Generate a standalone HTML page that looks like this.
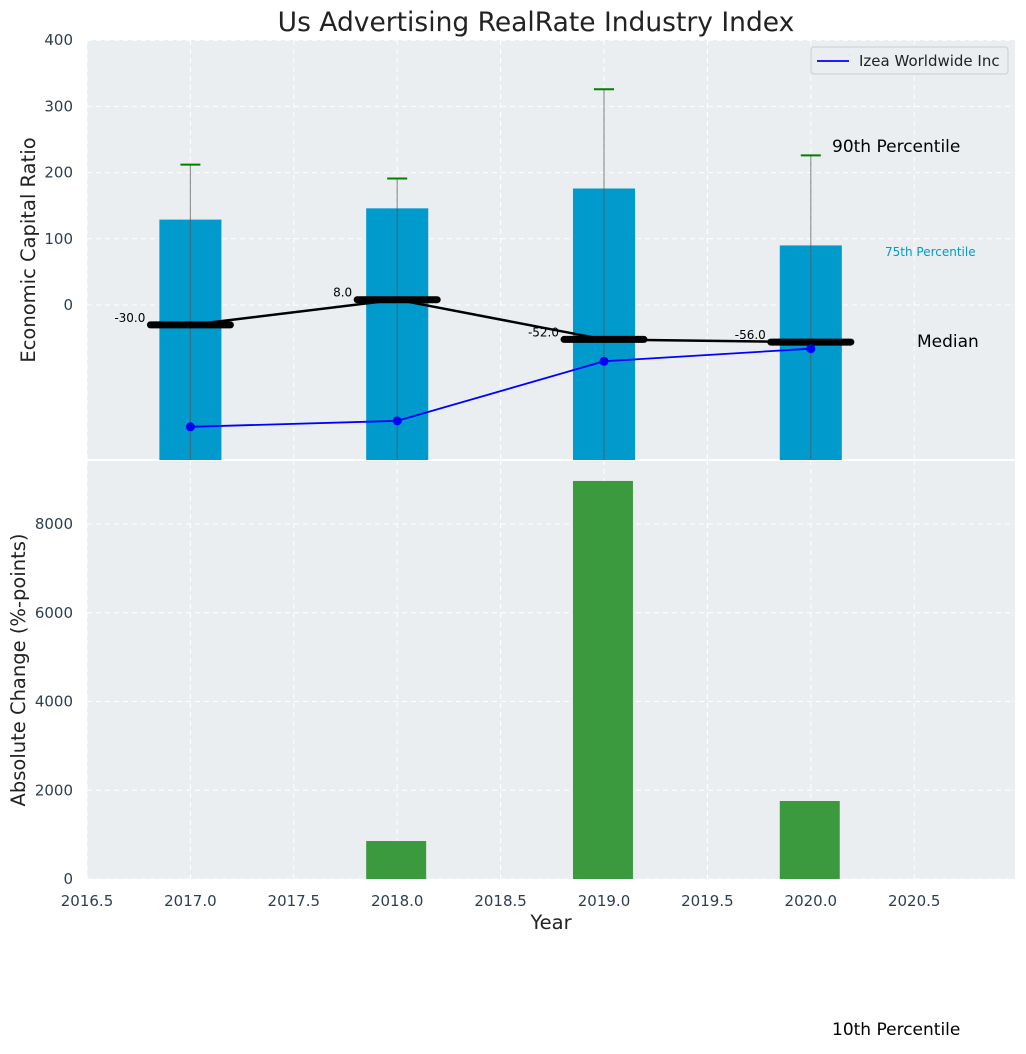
<!DOCTYPE html>
<html><head><meta charset="utf-8"><style>
body{margin:0;background:#fff;font-family:"Liberation Sans","DejaVu Sans",sans-serif;}
svg text{font-family:"DejaVu Sans","Liberation Sans",sans-serif;}
</style></head><body>
<svg id="c" width="1026" height="1049" xmlns="http://www.w3.org/2000/svg"></svg>
<script>
const years=[2017,2018,2019,2020];
const p75=[129,146,176,90];
const p90=[212,191,326,226];
const medians=[-30,8,-52,-56];
const company=[-184,-175,-85,-66];
const absChange=[0,856,8970,1758];
const topTicks=[0,100,200,300,400];
const botTicks=[0,2000,4000,6000,8000];
const xTicks=[2016.5,2017,2017.5,2018,2018.5,2019,2019.5,2020,2020.5];

const NS="http://www.w3.org/2000/svg";
const svg=document.getElementById('c');
function el(t,a,txt){const e=document.createElementNS(NS,t);for(const k in a)e.setAttribute(k,a[k]);if(txt!==undefined)e.textContent=txt;svg.appendChild(e);return e;}
const L=87,R=1015;
const x=v=>L+(v-2016.5)*206.8;
const yT=v=>305-v*0.662;
const yB=v=>879-v*0.044375;
const TT=40,TB=460,BT=460,BB=879;

let e;
e=el('rect',{x:L,y:TT,width:R-L,height:TB-TT,fill:'#eaeef0'});

e=el('rect',{x:L,y:BT+1,width:R-L,height:BB-BT-1,fill:'#eaeef0'});

el('line',{x1:L,x2:R,y1:460,y2:460,stroke:'#fff','stroke-width':2});
xTicks.forEach(t=>{
  [[TT,TB],[BT,BB]].forEach(r=>{el('line',{x1:x(t),x2:x(t),y1:r[0],y2:r[1],stroke:'#fff','stroke-dasharray':'5,4','stroke-width':1});});
  e=el('text',{x:x(t),y:906,'text-anchor':'middle','font-size':15,fill:'#2c3e50'},t.toFixed(1));
  
});
topTicks.forEach(t=>{
  el('line',{x1:L,x2:R,y1:yT(t),y2:yT(t),stroke:'#fff','stroke-dasharray':'5,4'});
  e=el('text',{x:73,y:yT(t)+5,'text-anchor':'end','font-size':15,fill:'#2c3e50'},t);
  
});
botTicks.forEach(t=>{
  el('line',{x1:L,x2:R,y1:yB(t),y2:yB(t),stroke:'#fff','stroke-dasharray':'5,4'});
  e=el('text',{x:73,y:yB(t)+5,'text-anchor':'end','font-size':15,fill:'#2c3e50'},t);
  
});
years.forEach((yr,i)=>{
  const w=0.3*206.8;
  e=el('rect',{x:x(yr)-w/2,y:yT(p75[i]),width:w,height:TB-yT(p75[i]),fill:'#009acd'});
  
  el('line',{x1:x(yr),x2:x(yr),y1:yT(p90[i]),y2:TB,stroke:'#555','stroke-opacity':0.6,'stroke-width':1.2});
  e=el('line',{x1:x(yr)-10,x2:x(yr)+10,y1:yT(p90[i]),y2:yT(p90[i]),stroke:'green','stroke-width':2});
  
  const bw=0.29*206.8;
  e=el('rect',{x:x(yr)-w/2,y:yB(absChange[i]),width:bw,height:BB-yB(absChange[i]),fill:'#3b9a3e'});
  
});
e=el('polyline',{points:years.map((yr,i)=>x(yr)+','+yT(medians[i])).join(' '),fill:'none',stroke:'#000','stroke-width':2.5});

years.forEach((yr,i)=>{
  e=el('line',{x1:x(yr)-40,x2:x(yr)+40,y1:yT(medians[i]),y2:yT(medians[i]),stroke:'#000','stroke-width':7,'stroke-linecap':'round'});
  
  e=el('text',{x:x(yr)-45,y:yT(medians[i])-3,'text-anchor':'end','font-size':12,fill:'#000'},medians[i].toFixed(1));
  
});
e=el('polyline',{points:years.map((yr,i)=>x(yr)+','+yT(company[i])).join(' '),fill:'none',stroke:'#0000ff','stroke-width':1.8});

years.forEach((yr,i)=>{e=el('circle',{cx:x(yr),cy:yT(company[i]),r:4.5,fill:'#0000ff'});
  });
e=el('rect',{x:811,y:47,width:197,height:27,fill:'#eaeef0',stroke:'#ccc',rx:3});

el('line',{x1:817,x2:849,y1:61,y2:61,stroke:'#0000ff','stroke-width':1.8});
e=el('text',{x:859,y:66,'font-size':15,fill:'#222'},'Izea Worldwide Inc');

[['90th Percentile',832,152,17,'#000'],['75th Percentile',885,256,12,'#009acd'],['Median',917,347,17,'#000'],['10th Percentile',832,1035,17,'#000']].forEach(a=>{
  e=el('text',{x:a[1],y:a[2],'font-size':a[3],fill:a[4]},a[0]);
  
});
e=el('text',{x:536,y:31,'text-anchor':'middle','font-size':26.5,fill:'#222'},'Us Advertising RealRate Industry Index');

e=el('text',{x:0,y:0,'text-anchor':'middle','font-size':19.5,fill:'#222',transform:'translate(35,250) rotate(-90)'},'Economic Capital Ratio');

e=el('text',{x:0,y:0,'text-anchor':'middle','font-size':19.5,fill:'#222',transform:'translate(25,670) rotate(-90)'},'Absolute Change (%-points)');

e=el('text',{x:551,y:929,'text-anchor':'middle','font-size':19.5,fill:'#222'},'Year');

</script>
</body></html>
